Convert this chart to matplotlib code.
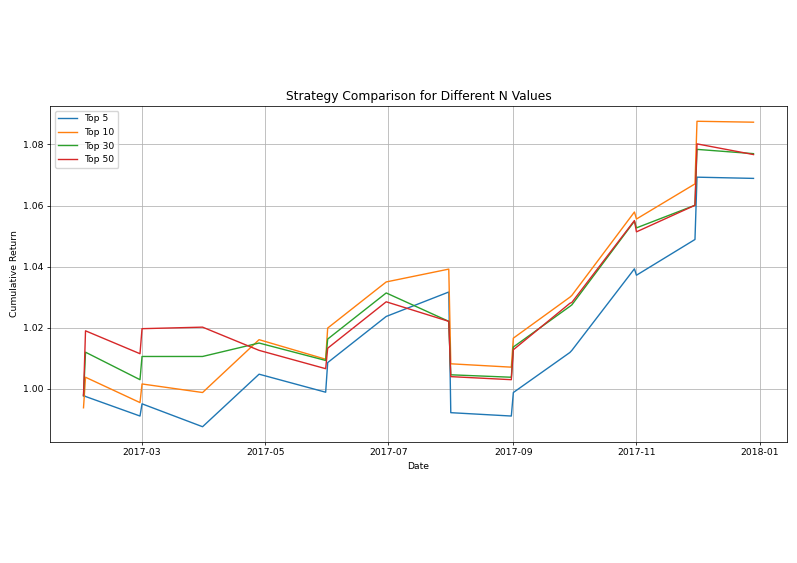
import matplotlib
matplotlib.use("Agg")
import matplotlib.pyplot as plt
import pandas as pd

# dates of the strategy snapshots
dates = ["2017-01-31", "2017-02-01", "2017-02-28", "2017-03-01", "2017-03-31",
         "2017-04-28", "2017-05-31", "2017-06-01", "2017-06-30", "2017-07-31",
         "2017-08-01", "2017-08-31", "2017-09-01", "2017-09-29", "2017-09-30",
         "2017-10-31", "2017-11-01", "2017-11-30", "2017-12-01", "2017-12-29"]

top5 = [0.9980, 0.9975, 0.9911, 0.9951, 0.9876, 1.0048, 0.9989, 1.0086, 1.0237, 1.0317,
        0.9922, 0.9911, 0.9988, 1.0119, 1.0126, 1.0393, 1.0372, 1.0489, 1.0693, 1.0689]
top10 = [0.9938, 1.0038, 0.9955, 1.0016, 0.9988, 1.0161, 1.0097, 1.0199, 1.0350, 1.0392,
         1.0082, 1.0071, 1.0166, 1.0300, 1.0306, 1.0579, 1.0556, 1.0671, 1.0876, 1.0873]
top30 = [0.9977, 1.0120, 1.0030, 1.0106, 1.0106, 1.0150, 1.0093, 1.0163, 1.0314, 1.0221,
         1.0046, 1.0038, 1.0137, 1.0270, 1.0275, 1.0549, 1.0527, 1.0601, 1.0784, 1.0770]
top50 = [0.9978, 1.0190, 1.0115, 1.0197, 1.0202, 1.0126, 1.0066, 1.0133, 1.0285, 1.0221,
         1.0040, 1.0030, 1.0128, 1.0280, 1.0283, 1.0551, 1.0514, 1.0601, 1.0802, 1.0767]

series = {"Top 5": top5, "Top 10": top10, "Top 30": top30, "Top 50": top50}

x = pd.to_datetime(dates)
fs = 6.7

fig = plt.figure(figsize=(7.97, 5.63), dpi=100)
ax = fig.add_axes([50 / 797, 1 - 442 / 563, 737 / 797, 336 / 563])

for name, vals in series.items():
    ax.plot(x, vals, label=name, linewidth=1.0)

ax.set_title("Strategy Comparison for Different N Values", fontsize=8.8, pad=4)
ax.set_xlabel("Date", fontsize=fs, labelpad=3)
ax.set_ylabel("Cumulative Return", fontsize=fs, labelpad=3)
ax.tick_params(labelsize=fs, length=2.3, width=0.55, pad=2.3)
for s in ax.spines.values():
    s.set_linewidth(0.55)
ax.grid(True, linewidth=0.55)
ax.legend(loc="upper left", fontsize=fs, handlelength=2.0)

fig.savefig("out.png", dpi=100)
